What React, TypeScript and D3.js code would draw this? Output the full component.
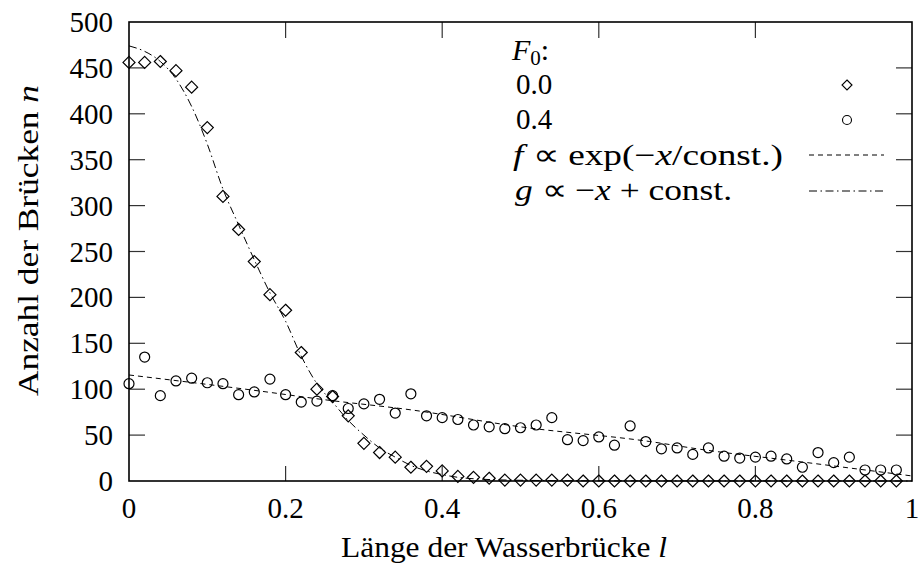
import React from "react";
import * as d3 from "d3";

// Bridge lengths (bin centres)
const lengths = [
  0, 0.02, 0.04, 0.06, 0.08, 0.1, 0.12, 0.14, 0.16, 0.18,
  0.2, 0.22, 0.24, 0.26, 0.28, 0.3, 0.32, 0.34, 0.36, 0.38,
  0.4, 0.42, 0.44, 0.46, 0.48, 0.5, 0.52, 0.54, 0.56, 0.58,
  0.6, 0.62, 0.64, 0.66, 0.68, 0.7, 0.72, 0.74, 0.76, 0.78,
  0.8, 0.82, 0.84, 0.86, 0.88, 0.9, 0.92, 0.94, 0.96, 0.98,
];

// Number of bridges for F0 = 0.0
const countsF00 = [
  456, 456, 457, 447, 429, 385, 310, 274, 239, 203,
  186, 140, 100, 92, 71, 41, 31, 26, 15, 16,
  11, 5, 4, 3, 1, 1, 1, 1, 1, 0,
  0, 0, 0, 0, 0, 0, 0, 0, 0, 0,
  0, 0, 0, 0, 0, 0, 0, 0, 0, 0,
];

// Number of bridges for F0 = 0.4
const countsF04 = [
  106, 135, 93, 109, 112, 107, 106, 94, 97, 111,
  94, 86, 87, 93, 79, 84, 89, 74, 95, 71,
  69, 67, 61, 59, 57, 58, 61, 69, 45, 44,
  48, 39, 60, 43, 35, 36, 29, 36, 27, 25,
  26, 27, 24, 15, 31, 20, 26, 12, 12, 12,
];

// Fitted curve f (through the F0 = 0.4 data)
const fitFX = [0, 0.167, 0.25, 0.36, 0.5, 0.665, 0.73, 0.857, 1];
const fitFY = [115.5, 98, 88.5, 77.5, 59, 43, 34.5, 21, 5.5];

// Fitted curve g (through the F0 = 0.0 data)
const fitGX = [
  0, 0.02, 0.04, 0.06, 0.08, 0.1, 0.12, 0.14, 0.16, 0.18,
  0.2, 0.22, 0.24, 0.26, 0.28, 0.3, 0.32, 0.34, 0.36, 0.38,
  0.4, 0.42, 0.45, 0.5, 0.6, 1,
];
const fitGY = [
  474, 468, 457, 438, 408, 367, 318, 279, 241, 205,
  174, 136, 106, 86, 66, 50, 36, 26, 17, 11,
  7, 4, 2, 0.8, 0.2, 0,
];

const xTicks = [0, 0.2, 0.4, 0.6, 0.8, 1];
const yTicks = [0, 50, 100, 150, 200, 250, 300, 350, 400, 450, 500];

const W = 922;
const H = 569;
const FONT = "Liberation Serif";
const FS = 29;
const TS = 30;

export default function App() {
  const x = d3.scaleLinear().domain([0, 1]).range([129, 912]);
  const y = d3.scaleLinear().domain([0, 500]).range([481, 22]);

  const lineGen = d3
    .line<[number, number]>()
    .x((d) => x(d[0]))
    .y((d) => y(d[1]))
    .curve(d3.curveMonotoneX);

  const fPath = lineGen(fitFX.map((v, i) => [v, fitFY[i]]) as [number, number][]) || "";
  const gPath = lineGen(fitGX.map((v, i) => [v, fitGY[i]]) as [number, number][]) || "";

  const diamond = (cx: number, cy: number, r: number) =>
    `M${cx},${cy - r}L${cx + r},${cy}L${cx},${cy + r}L${cx - r},${cy}Z`;

  const [x0, x1] = x.range();
  const [y0, y1] = y.range();
  const tickLen = 16;

  const dashF = "5,4";
  const dashG = "8,3.5,1.5,3.5";

  const ts = { fontFamily: FONT };

  return (
    <div style={{ position: "fixed", left: 0, top: 0 }}>
      <svg width={W} height={H} style={{ fontFamily: FONT }}>
        <rect x={0} y={0} width={W} height={H} fill="#fff" />

        {/* tick marks, mirrored on all four sides */}
        <g stroke="#333" strokeWidth={1.2}>
          {xTicks.slice(1, -1).map((t) => (
            <g key={"xt" + t}>
              <line x1={x(t)} x2={x(t)} y1={y0} y2={y0 - tickLen + 1} />
              <line x1={x(t)} x2={x(t)} y1={y1} y2={y1 + tickLen} />
            </g>
          ))}
          {yTicks.slice(1, -1).map((t) => (
            <g key={"yt" + t}>
              <line x1={x0} x2={x0 + tickLen} y1={y(t)} y2={y(t)} />
              <line x1={x1} x2={x1 - tickLen} y1={y(t)} y2={y(t)} />
            </g>
          ))}
        </g>

        {/* fitted curves */}
        <path d={gPath} fill="none" stroke="#000" strokeWidth={1} strokeDasharray={dashG} />
        <path d={fPath} fill="none" stroke="#000" strokeWidth={1} strokeDasharray={dashF} />

        {/* F0 = 0.0 */}
        <g fill="none" stroke="#000" strokeWidth={1.2}>
          {lengths.map((l, i) => (
            <path key={"d" + i} d={diamond(x(l), y(countsF00[i]), 6)} />
          ))}
        </g>
        {/* F0 = 0.4 */}
        <g fill="none" stroke="#000" strokeWidth={1.2}>
          {lengths.map((l, i) => (
            <circle key={"c" + i} cx={x(l)} cy={y(countsF04[i])} r={5} />
          ))}
        </g>

        {/* frame */}
        <rect
          x={x0}
          y={y1}
          width={x1 - x0}
          height={y0 - y1}
          fill="none"
          stroke="#000"
          strokeWidth={1.6}
        />

        {/* tick labels */}
        {xTicks.map((t) => (
          <text
            key={"xl" + t}
            x={x(t)}
            y={518}
            fontSize={FS}
            fontFamily={FONT}
            style={ts}
            textAnchor="middle"
          >
            {String(t)}
          </text>
        ))}
        {yTicks.map((t) => (
          <text
            key={"yl" + t}
            x={113}
            y={y(t) + 10}
            fontSize={FS}
            fontFamily={FONT}
            style={ts}
            textAnchor="end"
          >
            {String(t)}
          </text>
        ))}

        {/* axis titles */}
        <text
          x={341}
          y={557}
          fontSize={TS}
          fontFamily={FONT}
          style={ts}
          textLength={326}
          lengthAdjust="spacingAndGlyphs"
        >
          Länge der Wasserbrücke <tspan fontStyle="italic">l</tspan>
        </text>
        <text
          transform="translate(38,396) rotate(-90)"
          fontSize={TS}
          fontFamily={FONT}
          style={ts}
          textLength={311}
          lengthAdjust="spacingAndGlyphs"
        >
          Anzahl der Brücken <tspan fontStyle="italic">n</tspan>
        </text>

        {/* key */}
        <text x={512} y={60} fontSize={TS} fontFamily={FONT} style={ts}>
          <tspan fontStyle="italic">F</tspan>
          <tspan fontSize={21} dy={5}>0</tspan>
          <tspan dy={-5}>:</tspan>
        </text>
        <text x={516} y={94} fontSize={FS} fontFamily={FONT} style={ts}>0.0</text>
        <text x={516} y={129} fontSize={FS} fontFamily={FONT} style={ts}>0.4</text>
        <text
          x={513}
          y={165}
          fontSize={TS}
          fontFamily={FONT}
          style={ts}
          textLength={270}
          lengthAdjust="spacingAndGlyphs"
        >
          <tspan fontStyle="italic">f</tspan> ∝ exp(−<tspan fontStyle="italic">x</tspan>/const.)
        </text>
        <text
          x={515}
          y={200}
          fontSize={TS}
          fontFamily={FONT}
          style={ts}
          textLength={217}
          lengthAdjust="spacingAndGlyphs"
        >
          <tspan fontStyle="italic">g</tspan> ∝ −<tspan fontStyle="italic">x</tspan> + const.
        </text>
        <path d={diamond(847, 85, 5)} fill="none" stroke="#000" strokeWidth={1.1} />
        <circle cx={847} cy={120} r={4.5} fill="none" stroke="#000" strokeWidth={1.1} />
        <line x1={809} x2={884} y1={155} y2={155} stroke="#000" strokeWidth={1} strokeDasharray={dashF} />
        <line x1={809} x2={884} y1={191} y2={191} stroke="#000" strokeWidth={1} strokeDasharray={dashG} />
      </svg>
    </div>
  );
}
